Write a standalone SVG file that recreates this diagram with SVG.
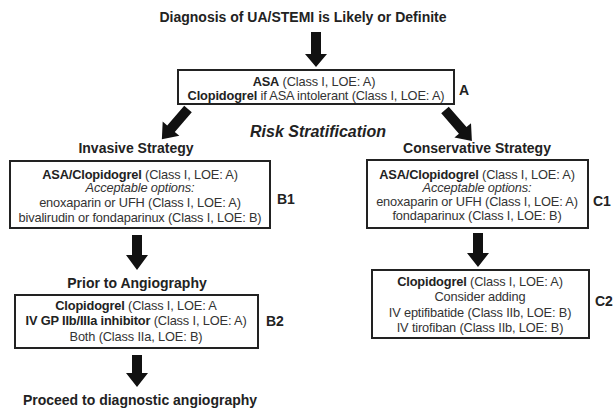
<svg xmlns="http://www.w3.org/2000/svg" width="616" height="409" viewBox="0 0 616 409">
<style>
text{font-family:"Liberation Sans",Arial,sans-serif;fill:#333;text-anchor:middle}
.h{font-weight:bold;font-size:14px;fill:#222}
.t{font-size:12.8px;letter-spacing:-0.15px}
.b{font-weight:bold;fill:#222}
.i{font-style:italic}
.lab{font-weight:bold;font-size:14px;fill:#222;text-anchor:start}
.box{fill:#fff;stroke:#222;stroke-width:2}
.arr{fill:#111}
</style>
<rect width="616" height="409" fill="#fff"/>
<g id="title"><text class="h" x="303" y="22">Diagnosis of UA/STEMI is Likely or Definite</text></g>
<g id="connectors">
<path class="arr" d="M311,32H321V54H327L316,67L305,54H311Z"/>
<path class="arr" transform="translate(188,109) rotate(130.8)" d="M0,-5H26V-11L40,0L26,11V5H0Z"/>
<path class="arr" transform="translate(445,110) rotate(49)" d="M0,-5H27V-11L41,0L27,11V5H0Z"/>
<path class="arr" d="M132,235H142V255H148L137,270L126,255H132Z"/>
<path class="arr" d="M473,233H483V253H489L478,267L467,253H473Z"/>
<path class="arr" d="M132,355H142V373H148L137,387L126,373H132Z"/>
</g>
<g id="A">
<rect class="box" x="178" y="70" width="276" height="34"/>
<text class="t" x="314" y="86"><tspan class="b">ASA</tspan>  (Class I, LOE: A)</text>
<text class="t" x="316" y="100"><tspan class="b">Clopidogrel</tspan> if ASA intolerant (Class I, LOE: A)</text>
<text class="lab" x="459" y="95">A</text>
</g>
<g id="risk"><text class="h i" x="318" y="137" style="font-size:16px">Risk Stratification</text></g>
<g id="B1">
<text class="h" x="136" y="153">Invasive Strategy</text>
<rect class="box" x="10" y="161" width="260" height="67"/>
<text class="t" x="140" y="179"><tspan class="b">ASA/Clopidogrel</tspan> (Class I, LOE: A)</text>
<text class="t i" x="140" y="192">Acceptable options:</text>
<text class="t" x="140" y="207">enoxaparin or UFH  (Class I, LOE: A)</text>
<text class="t" x="140" y="222">bivalirudin or fondaparinux (Class I, LOE: B)</text>
<text class="lab" x="277" y="204">B1</text>
</g>
<g id="C1">
<text class="h" x="477" y="153">Conservative Strategy</text>
<rect class="box" x="367" y="160" width="221" height="68"/>
<text class="t" x="477" y="179"><tspan class="b">ASA/Clopidogrel</tspan> (Class I, LOE: A)</text>
<text class="t i" x="477" y="192">Acceptable options:</text>
<text class="t" x="477" y="206">enoxaparin or UFH (Class I, LOE: A)</text>
<text class="t" x="477" y="220">fondaparinux (Class I, LOE: B)</text>
<text class="lab" x="593" y="206">C1</text>
</g>
<g id="B2">
<text class="h" x="137" y="288">Prior to Angiography</text>
<rect class="box" x="15" y="295" width="243" height="53"/>
<text class="t" x="136" y="310"><tspan class="b">Clopidogrel</tspan> (Class I, LOE: A</text>
<text class="t" x="136" y="325"><tspan class="b">IV GP IIb/IIIa inhibitor</tspan> (Class I, LOE: A)</text>
<text class="t" x="136" y="341">Both (Class IIa, LOE: B)</text>
<text class="lab" x="266" y="326">B2</text>
</g>
<g id="C2">
<rect class="box" x="372" y="270" width="217" height="68"/>
<text class="t" x="480" y="286"><tspan class="b">Clopidogrel</tspan> (Class I, LOE: A)</text>
<text class="t" x="480" y="301">Consider  adding</text>
<text class="t" x="480" y="317">IV eptifibatide (Class IIb, LOE: B)</text>
<text class="t" x="480" y="332">IV tirofiban (Class IIb, LOE: B)</text>
<text class="lab" x="595" y="306">C2</text>
</g>
<g id="end"><text class="h" x="140" y="405">Proceed to diagnostic angiography</text></g>
</svg>
